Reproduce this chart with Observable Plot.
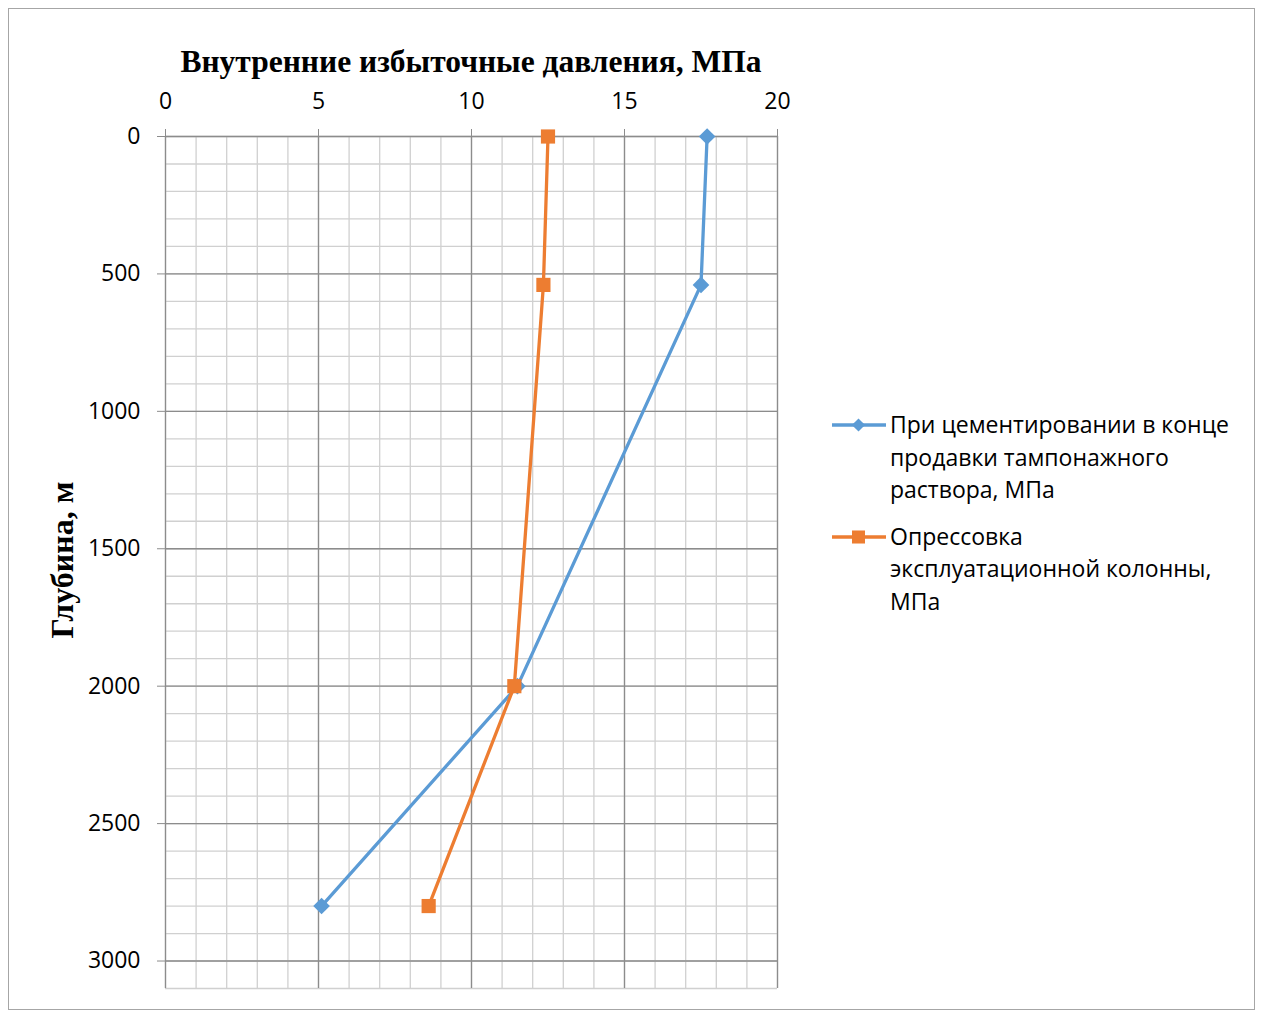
<!DOCTYPE html>
<html><head><meta charset="utf-8">
<script src="https://cdn.jsdelivr.net/npm/d3@7"></script>
<script src="https://cdn.jsdelivr.net/npm/@observablehq/plot@0.6"></script>
<style>
body{margin:0;background:#fff;}
#wrap{position:relative;width:1261px;height:1013px;overflow:hidden;background:#fff;}
#wrap > svg{position:absolute;left:0;top:0;}
#frame{position:absolute;left:8px;top:8px;width:1247px;height:1002px;border:1.5px solid #a6a6a6;box-sizing:border-box;pointer-events:none;}
#title{position:absolute;left:165px;width:612px;top:46px;text-align:center;font:bold 31.5px "Liberation Serif";line-height:1;}
#ylab{position:absolute;left:62px;top:560px;transform:translate(-50%,-50%) rotate(-90deg);font:bold 32px "Liberation Serif";white-space:nowrap;line-height:1;}
#legend{position:absolute;left:830px;top:408px;font:23px "Open Sans";color:#000;}
.item{display:flex;align-items:flex-start;margin-bottom:14px;}
.item svg{flex:none;}
.item div{width:342px;line-height:32.5px;margin-left:3px;}
</style></head>
<body>
<div id="wrap">
  <div id="title">Внутренние избыточные давления, МПа</div>
  <div id="ylab">Глубина, м</div>
  <div id="legend"></div>
  <div id="frame"></div>
</div>
<script>
// Data
const depth = [0, 540, 2000, 2800];
const cementing = [17.7, 17.5, 11.5, 5.1];
const pressureTest = [12.5, 12.35, 11.4, 8.6];
const seriesNames = ["При цементировании в конце продавки тампонажного раствора, МПа", "Опрессовка эксплуатационной колонны, МПа"];
const seriesColors = ["#5B9BD5", "#ED7D31"];
const seriesSymbols = ["diamond2", "square"];
const xTicks = [0, 5, 10, 15, 20];
const yTicks = [0, 500, 1000, 1500, 2000, 2500, 3000];
const xMinor = d3.range(0, 21, 1);
const yMinor = d3.range(0, 3101, 100);

const rows = [];
depth.forEach((d, i) => rows.push({series: seriesNames[0], x: cementing[i], y: d}));
depth.forEach((d, i) => rows.push({series: seriesNames[1], x: pressureTest[i], y: d}));

const chart = Plot.plot({
  width: 1261, height: 1013,
  marginLeft: 165, marginRight: 484, marginTop: 136, marginBottom: 25,
  style: {fontFamily: "Open Sans", fontSize: "23px", color: "#000", background: "transparent"},
  x: {domain: [0, 20], axis: null},
  y: {domain: [0, 3100], reverse: true, axis: null},
  color: {domain: seriesNames, range: seriesColors},
  symbol: {domain: seriesNames, range: seriesSymbols},
  marks: [
    Plot.ruleX(xMinor, {stroke: "#d0d0d0", strokeWidth: 1.3}),
    Plot.ruleY(yMinor, {stroke: "#d0d0d0", strokeWidth: 1.3}),
    Plot.ruleX(xTicks, {stroke: "#8c8c8c", strokeWidth: 1.3}),
    Plot.ruleY(yTicks, {stroke: "#8c8c8c", strokeWidth: 1.3}),
    Plot.axisX({anchor: "top", ticks: xTicks, tickSize: 8, tickPadding: 20, tickFormat: d => String(d), label: null, stroke: "#8c8c8c", fill: "#000", fontSize: 23}),
    Plot.axisY({anchor: "left", ticks: yTicks, tickSize: 8, tickPadding: 17, tickFormat: d => String(d), label: null, stroke: "#8c8c8c", fill: "#000", fontSize: 23}),
    Plot.line(rows, {x: "x", y: "y", z: "series", stroke: "series", strokeWidth: 3.3}),
    Plot.dot(rows.filter(r => r.series === seriesNames[0]), {x: "x", y: "y", symbol: "series", fill: "series", r: 7.5}),
    Plot.dot(rows.filter(r => r.series === seriesNames[1]), {x: "x", y: "y", symbol: "series", fill: "series", r: 8})
  ]
});
const wrap = document.getElementById("wrap");
wrap.insertBefore(chart, wrap.firstChild);

// Legend
const legend = d3.select("#legend");
seriesNames.forEach((name, i) => {
  const it = legend.append("div").attr("class", "item");
  const s = it.append("svg").attr("width", 57).attr("height", 32);
  s.append("line").attr("x1", 2).attr("x2", 56).attr("y1", 17).attr("y2", 17)
    .attr("stroke", seriesColors[i]).attr("stroke-width", 3.3);
  const sym = d3.symbol(i === 0 ? d3.symbolDiamond2 : d3.symbolSquare, i === 0 ? 110 : 170);
  s.append("path").attr("d", sym()).attr("transform", "translate(28.5,17)").attr("fill", seriesColors[i]);
  it.append("div").text(name);
});
</script>
</body></html>
